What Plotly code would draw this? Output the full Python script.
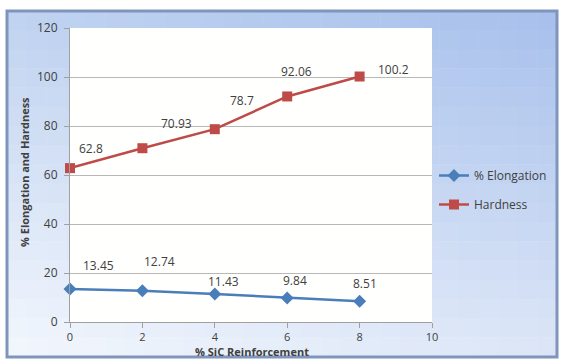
import plotly.graph_objects as go

# Data
sic_pct = [0, 2, 4, 6, 8]
elongation = [13.45, 12.74, 11.43, 9.84, 8.51]
hardness = [62.8, 70.93, 78.7, 92.06, 100.2]

# label offsets in px (dx, dy)
elong_off = [(28, 24), (17, 29), (9, 13), (8, 17), (5, 18)]
hard_off = [(21, 20), (34, 25), (27, 29), (9, 25), (34, 7)]

W, H = 566, 360
L, R, T, B = 70, 134, 28, 38
pw, ph = W - L - R, H - T - B

def px2paper(x, y):
    return (x - L) / pw, (H - B - y) / ph

fig = go.Figure()

fig.add_trace(go.Scatter(
    x=sic_pct, y=elongation, name="% Elongation", mode="lines+markers",
    line=dict(color="#4a7ebb", width=2.5),
    marker=dict(symbol="diamond", size=10, color="#4a7ebb"),
    legendgroup="a", cliponaxis=False))
fig.add_trace(go.Scatter(
    x=sic_pct, y=hardness, name="Hardness", mode="lines+markers",
    line=dict(color="#be4b48", width=2.5),
    marker=dict(symbol="square", size=10, color="#be4b48"),
    legendgroup="b", cliponaxis=False))

lab_font = dict(size=12, color="#404040")
ann = []
for xv, yv, (dx, dy) in zip(sic_pct, elongation, elong_off):
    ann.append(dict(x=xv, y=yv, text=f"{yv:g}", showarrow=False,
                    xanchor="center", yanchor="middle",
                    xshift=dx, yshift=dy, font=lab_font))
for xv, yv, (dx, dy) in zip(sic_pct, hardness, hard_off):
    ann.append(dict(x=xv, y=yv, text=f"{yv:g}", showarrow=False,
                    xanchor="center", yanchor="middle",
                    xshift=dx, yshift=dy, font=lab_font))

# axis titles
ax, ay = px2paper(252, 352)
ann.append(dict(xref="paper", yref="paper", x=ax, y=ay, text="<b>% SiC Reinforcement</b>",
                xanchor="center", yanchor="middle",
                showarrow=False, font=dict(size=11, color="#404040")))
ax, ay = px2paper(24, 172)
ann.append(dict(xref="paper", yref="paper", x=ax, y=ay, text="<b>% Elongation and Hardness</b>",
                xanchor="center", yanchor="middle",
                textangle=-90, showarrow=False, font=dict(size=11, color="#404040")))

# chart-area gradient background
shapes = []
x0p, x1p, y0p, y1p = 7, 557, 11, 357
nx, ny = 28, 18
TL, TR, BL, BR = (0xbf, 0xd2, 0xf0), (0xa6, 0xbf, 0xeb), (0xf3, 0xf7, 0xfd), (0xdc, 0xe6, 0xf7)
for i in range(nx):
    for j in range(ny):
        u = (i + 0.5) / nx
        v = (j + 0.5) / ny
        c = [round((1 - u) * (1 - v) * TL[k] + u * (1 - v) * TR[k] + (1 - u) * v * BL[k] + u * v * BR[k]) for k in range(3)]
        xa = x0p + (x1p - x0p) * i / nx
        xb = x0p + (x1p - x0p) * (i + 1) / nx
        ya = y0p + (y1p - y0p) * j / ny
        yb = y0p + (y1p - y0p) * (j + 1) / ny
        p0 = px2paper(xa, yb)
        p1 = px2paper(xb + 0.5, ya - 0.5)
        shapes.append(dict(type="rect", xref="paper", yref="paper", layer="below",
                           x0=p0[0], y0=p0[1], x1=p1[0], y1=p1[1],
                           fillcolor="rgb(%d,%d,%d)" % tuple(c), line=dict(width=0)))
# plot area
shapes.append(dict(type="rect", xref="paper", yref="paper", layer="below",
                   x0=0, y0=0, x1=1, y1=1, fillcolor="#fffffd", line=dict(width=0)))
# frame
p0 = px2paper(x0p, y1p)
p1 = px2paper(x1p, y0p)
shapes.append(dict(type="rect", xref="paper", yref="paper", layer="below",
                   x0=p0[0], y0=p0[1], x1=p1[0], y1=p1[1],
                   fillcolor="rgba(0,0,0,0)", line=dict(color="#7f95bb", width=3)))

lx, ly = px2paper(434, 161)

fig.update_layout(
    width=W, height=H,
    margin=dict(l=L, r=R, t=T, b=B),
    paper_bgcolor="white", plot_bgcolor="rgba(0,0,0,0)",
    font=dict(family="Open Sans", size=11, color="#404040"),
    showlegend=True,
    legend=dict(x=lx, y=ly, xanchor="left", yanchor="top", bgcolor="rgba(0,0,0,0)",
                traceorder="grouped", tracegroupgap=10, itemwidth=30,
                font=dict(size=12, color="#404040")),
    xaxis=dict(range=[0, 10], tickvals=[0, 2, 4, 6, 8, 10], showgrid=False,
               showline=True, linecolor="#a0a0a0", ticks="outside", ticklen=5,
               tickcolor="#a0a0a0", zeroline=False, fixedrange=True,
               tickfont=dict(size=11)),
    yaxis=dict(range=[0, 120], tickvals=[0, 20, 40, 60, 80, 100, 120], showgrid=True,
               gridcolor="#b8b8b8", gridwidth=1, showline=True, linecolor="#a0a0a0",
               ticks="outside", ticklen=5, tickcolor="#a0a0a0", zeroline=False,
               ticklabelstandoff=4, tickfont=dict(size=12)),
    annotations=ann, shapes=shapes,
)

fig.write_html("out.html")
